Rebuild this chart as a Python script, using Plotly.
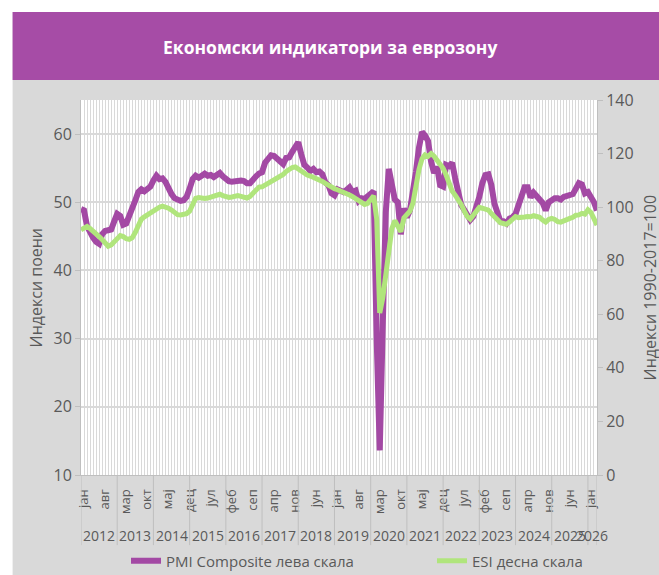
import plotly.graph_objects as go

month_names = ["јан", "феб", "мар", "апр", "мај", "јун", "јул", "авг", "сеп", "окт", "нов", "дец"]
years = list(range(2012, 2027))

pmi = [
    49.0, 48.8, 46.5, 45.5, 44.8, 44.2, 43.9, 45.3, 45.8, 45.9, 46.0, 47.2,
    48.3, 48.0, 46.7, 46.9, 47.9, 48.8, 50.3, 51.5, 51.9, 51.6, 51.9, 52.3,
    53.2, 53.9, 53.4, 53.5, 53.0, 52.0, 51.2, 50.6, 50.3, 50.2, 50.3, 50.8,
    52.0, 53.4, 53.9, 53.6, 53.9, 54.2, 53.9, 54.0, 53.7, 53.9, 54.3, 53.8,
    53.4, 53.1, 53.0, 53.1, 53.2, 53.2, 53.1, 52.8, 52.8, 53.4, 53.8, 54.2,
    54.4, 55.8, 56.4, 56.9, 56.8, 56.4, 55.8, 55.6, 56.5, 56.6, 57.4, 58.1,
    58.8, 57.0, 55.5, 55.1, 54.6, 54.9, 54.4, 54.5, 54.1, 52.9, 52.5, 51.3,
    51.0, 51.9, 51.6, 51.5, 51.8, 52.2, 51.5, 51.7, 50.2, 50.6, 50.5, 50.8,
    51.2, 51.6, 29.7, 13.6, 31.9, 48.5, 54.9, 51.9, 50.4, 50.0, 45.3, 49.1,
    47.8, 48.8, 52.5, 54.5, 58.0, 60.3, 59.8, 59.0, 56.0, 54.3, 55.2, 52.5,
    52.3, 55.5, 55.3, 55.8, 53.5, 51.0, 49.6, 48.9, 48.0, 47.4, 47.9, 49.2,
    50.8, 52.8, 54.0, 54.1, 52.5, 49.8, 48.4, 47.2, 47.2, 46.9, 47.6, 47.8,
    48.3, 49.5, 50.5, 52.2, 52.2, 50.7, 51.4, 50.8, 50.2, 49.9, 48.8, 50.0,
    50.3, 50.6, 50.6, 50.4, 50.8, 51.0, 51.1, 51.2, 52.0, 52.8, 52.6, 51.3,
    51.5, 50.9, 50.0, 48.8,
]

esi = [
    91.5, 92.3, 92.8, 92.0, 90.8, 89.9, 89.0, 87.9, 86.5, 85.4, 85.9, 87.2,
    88.5, 89.4, 89.0, 88.2, 88.0, 88.6, 90.6, 92.8, 95.5, 96.4, 97.2, 97.7,
    98.6, 99.4, 100.0, 100.4, 100.2, 99.6, 98.9, 98.1, 97.2, 97.1, 97.4, 97.6,
    98.5, 100.8, 103.3, 103.6, 103.3, 103.2, 103.4, 103.8, 104.1, 104.6, 104.8, 104.3,
    103.9, 103.6, 103.8, 104.0, 104.3, 104.0, 103.7, 103.4, 104.0, 105.0, 106.2, 107.5,
    107.6, 108.2, 108.9, 109.8, 110.4, 111.0, 111.5, 112.2, 113.3, 114.2, 114.8, 115.0,
    114.2, 113.2, 112.5, 112.0, 111.6, 111.2, 110.6, 110.0, 109.6, 108.9, 108.1, 107.4,
    106.9, 106.5, 106.1, 105.5, 105.2, 104.5, 103.9, 103.2, 102.4, 101.6, 101.0, 101.4,
    102.8, 104.2, 95.5, 60.5, 66.0, 76.0, 86.0, 92.0, 95.0, 93.0, 90.8, 96.0,
    97.5, 98.5, 101.5, 108.0, 114.0, 118.0, 119.5, 119.0, 120.0, 119.0, 117.5, 115.7,
    114.5, 112.0, 108.5, 106.0, 104.5, 103.0, 101.0, 98.6, 96.5, 95.5, 97.0, 98.8,
    99.9, 99.6, 99.2, 98.9, 97.6, 96.3, 94.8, 94.2, 93.9, 93.6, 94.4, 95.6,
    96.5, 96.1, 96.4, 96.3, 96.5, 96.4, 96.8, 96.6, 96.2, 95.2, 94.4, 95.4,
    95.8, 95.4, 94.6, 94.4, 95.0, 95.3, 95.8, 96.2, 97.0, 97.1, 97.7, 97.4,
    99.0, 98.0, 95.5, 93.3,
]

n = len(pmi)
x = list(range(n))
label_step = 7

TXT = "#595959"
FONT = "Open Sans"
PURPLE = "#a349a4"
GREEN = "#b0e57c"

fig = go.Figure()
fig.add_trace(go.Scatter(x=x, y=pmi, mode="lines", name="PMI Composite лева скала",
                         line=dict(color=PURPLE, width=6), legend="legend"))
fig.add_trace(go.Scatter(x=x, y=esi, mode="lines", name="ESI десна скала", yaxis="y2",
                         line=dict(color=GREEN, width=5), legend="legend2"))

tickvals = [i + 0.9 for i in range(0, n, label_step)]
ticktext = [month_names[i % 12] for i in range(0, n, label_step)]

W, H = 659, 575
leg_common = dict(orientation="h", yanchor="middle", xanchor="left", yref="container",
                  y=1 - 561 / H, font=dict(size=15, color=TXT), bgcolor="rgba(0,0,0,0)")

# plot area spans x 81..597, y 100..475
fig.update_layout(
    width=W, height=H,
    margin=dict(l=81, r=62, t=100, b=100),
    paper_bgcolor="#d9d9d9", plot_bgcolor="white",
    font=dict(family=FONT, color=TXT),
    showlegend=True,
    legend=dict(x=(126 - 81) / 516, **leg_common),
    legend2=dict(x=(432 - 81) / 516, **leg_common),
    xaxis=dict(range=[0, n - 1], tickmode="array", tickvals=tickvals, ticktext=ticktext,
               tickangle=-90, ticks="", showgrid=False, zeroline=False,
               showline=True, linecolor="#bfbfbf", linewidth=1,
               tickfont=dict(size=13, color=TXT), ticklabelstandoff=8,
               minor=dict(tickmode="linear", tick0=0, dtick=1, showgrid=True,
                          gridcolor="#d9d9d9", gridwidth=1, ticks="")),
    yaxis=dict(range=[10, 65], tickvals=[10, 20, 30, 40, 50, 60], showgrid=True,
               gridcolor="#d9d9d9", gridwidth=2, zeroline=False,
               showline=True, linecolor="#bfbfbf", linewidth=1,
               ticks="outside", ticklen=5, tickcolor="#bfbfbf",
               tickfont=dict(size=16, color=TXT)),
    yaxis2=dict(range=[0, 140], tickvals=list(range(0, 141, 20)), overlaying="y", side="right",
                showgrid=False, zeroline=False, showline=True, linecolor="#bfbfbf", linewidth=1,
                ticks="outside", ticklen=5, tickcolor="#bfbfbf",
                tickfont=dict(size=16, color=TXT)),
)

# axis titles
fig.add_annotation(text="Индекси поени", xref="paper", yref="paper",
                   x=(35 - 81) / 516, y=0.5, textangle=-90, xanchor="center", yanchor="middle",
                   showarrow=False, font=dict(size=16, color=TXT))
fig.add_annotation(text="Индекси 1990-2017=100", xref="paper", yref="paper",
                   x=(649 - 81) / 516, y=0.5, textangle=-90, xanchor="center", yanchor="middle",
                   showarrow=False, font=dict(size=16, color=TXT))

# header band and white page margins
fig.add_shape(type="rect", xref="paper", yref="paper", x0=-0.2, x1=(12.6 - 81) / 516, y0=-0.3, y1=1.3,
              fillcolor="white", line_width=0, layer="above")
fig.add_shape(type="rect", xref="paper", yref="paper", x0=-0.2, x1=1.2, y0=(475 - 12) / 375, y1=1.3,
              fillcolor="white", line_width=0, layer="above")
fig.add_shape(type="rect", xref="paper", yref="paper", x0=(12.6 - 81) / 516, x1=1.2,
              y0=(475 - 80) / 375, y1=(475 - 12) / 375,
              fillcolor="#a64ca6", line_width=0, layer="above")
fig.add_annotation(text="<b>Економски индикатори за еврозону</b>", xref="paper", yref="paper",
                   x=(330 - 81) / 516, y=(475 - 47) / 375, xanchor="center", yanchor="middle",
                   showarrow=False, font=dict(size=17.5, color="white", family=FONT))

# year level of the category axis
bounds = [12 * k for k in range(len(years))] + [n - 1]
for b in bounds:
    fig.add_shape(type="line", xref="x", yref="paper", x0=b, x1=b, y0=0, y1=-0.187,
                  line=dict(color="#bfbfbf", width=1))
for k, yr in enumerate(years):
    mid = (bounds[k] + bounds[k + 1]) / 2
    fig.add_annotation(text=str(yr), xref="x", yref="paper", x=mid, y=-0.16,
                       xanchor="center", yanchor="middle", showarrow=False,
                       font=dict(size=14, color=TXT))

fig.write_html("out.html", config={"displayModeBar": False},
               post_script="document.body.style.margin='0px';")
